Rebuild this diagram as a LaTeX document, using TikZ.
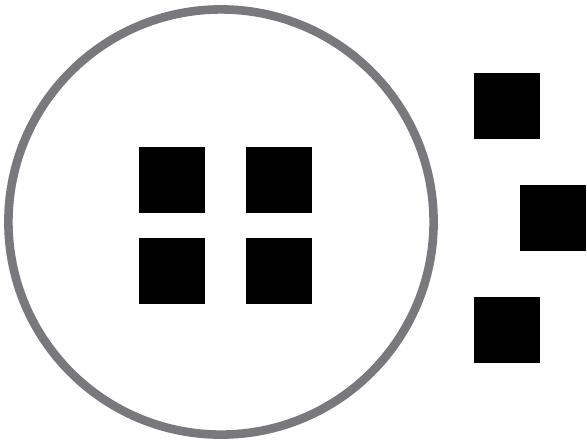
\documentclass[tikz,border=0pt]{standalone}
\usepackage{tikz}
\usetikzlibrary{calc}

\definecolor{ringgray}{RGB}{120,120,125}

\tikzset{
    block/.style={fill=black, draw=none, minimum size=33pt, inner sep=0pt, outer sep=0pt},
    ring/.style={draw=ringgray, line width=4.3pt}
}

\begin{document}
\begin{tikzpicture}[x=0.5pt, y=-0.5pt]
        \useasboundingbox (0,0) rectangle (587,440);

        % the set
        \draw[ring] (221,222) circle (106.3pt);

        % members inside
        \node[block] (in1) at (172,180) {};
        \node[block] (in2) at (279,180) {};
        \node[block] (in3) at (172,271) {};
        \node[block] (in4) at (279,271) {};

        % members outside
        \node[block] (out1) at (507,106) {};
        \node[block] (out2) at (553,218) {};
        \node[block] (out3) at (507,330) {};

    \end{tikzpicture}
\end{document}
